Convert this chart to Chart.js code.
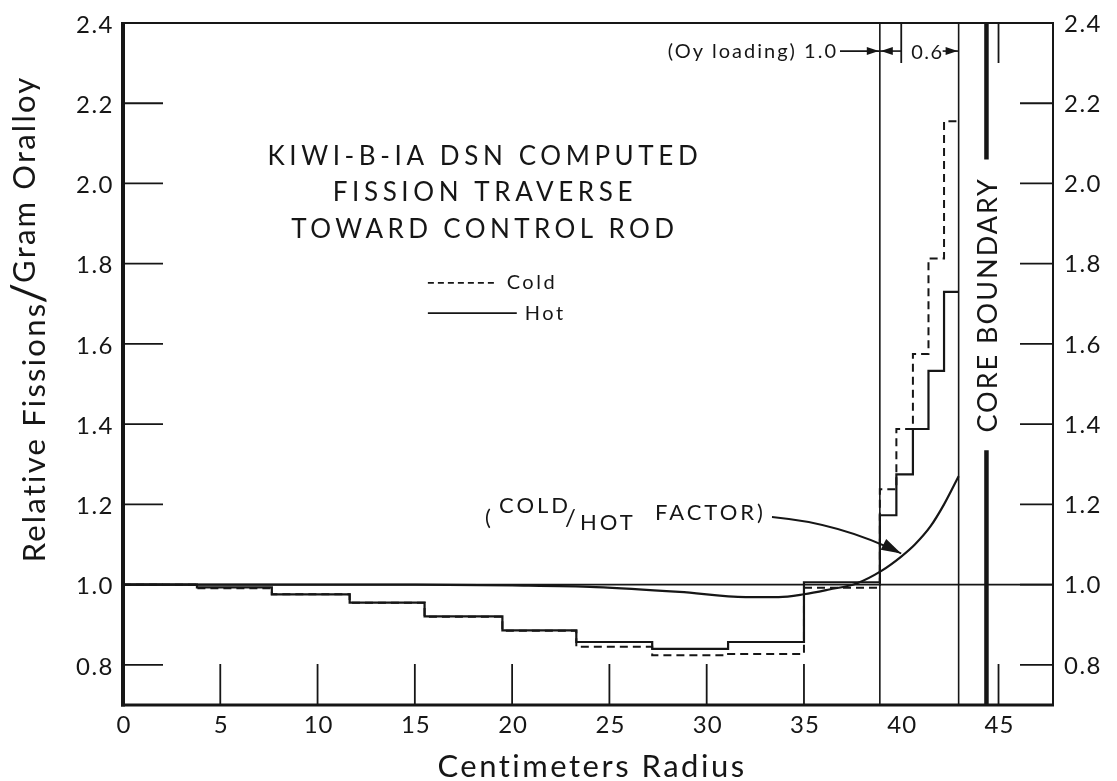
<!DOCTYPE html>
<html>
<head>
<meta charset="utf-8">
<script src="https://cdn.jsdelivr.net/npm/chart.js@4.4.1/dist/chart.umd.min.js"></script>
<style>
  html, body { margin: 0; padding: 0; background: #fff; }
  #wrap { width: 1117px; height: 781px; }
</style>
</head>
<body>
<div id="wrap"><canvas id="c" width="1117" height="781"></canvas></div>
<script>
// Zone edges (cm) of the DSN mesh regions along the traverse
const stepEdges = [0, 3.8, 7.65, 11.65, 15.5, 19.5, 23.3, 27.2, 31.1, 35.0, 38.9, 39.75, 40.6, 41.4, 42.2, 42.95];
// Relative fissions per gram oralloy in each zone
const hotValues  = [1.0, 0.993, 0.976, 0.955, 0.921, 0.886, 0.857, 0.840, 0.857, 1.006, 1.173, 1.275, 1.388, 1.533, 1.730];
const coldValues = [1.0, 0.991, 0.976, 0.955, 0.920, 0.885, 0.845, 0.824, 0.827, 0.992, 1.238, 1.388, 1.575, 1.813, 2.155];
// Cold/hot factor curve
const factorRadius = [0, 15, 20, 24.3, 28.6, 32.0, 33.7, 35.0, 36.3, 37.7, 39.0, 40.0, 40.7, 41.5, 42.2, 42.95];
const factorValues = [1.0, 1.0, 0.998, 0.994, 0.982, 0.969, 0.969, 0.976, 0.988, 1.003, 1.035, 1.07, 1.10, 1.145, 1.20, 1.27];
// Loading-zone boundaries and core boundary (cm)
const loadingBoundaries = [38.9, 42.95];
const coreBoundary = 44.38;
const coreBoundaryBreak = [1.335, 2.06];
// Axis ticks
const xTickValues = [0, 5, 10, 15, 20, 25, 30, 35, 40, 45];
const xTickLabels = ['0', '5', '10', '15', '20', '25', '30', '35', '40', '45'];
const bottomTickMarks = [5, 10, 15, 20, 25, 30, 35, 45];
const topTickMarks = [40, 45];
const yTickValues = [0.8, 1.0, 1.2, 1.4, 1.6, 1.8, 2.0, 2.2, 2.4];
const yTickLabels = ['0.8', '1.0', '1.2', '1.4', '1.6', '1.8', '2.0', '2.2', '2.4'];

const X_MIN = 0, X_MAX = 47.8, Y_MIN = 0.7, Y_MAX = 2.4;
const INK = '#161616';
const FAMILY = 'Lato, "Open Sans", "DejaVu Sans", sans-serif';
const font = (size, weight = 400) => `${weight} ${size}px ${FAMILY}`;

// each zone value holds from its left edge to the next edge
function stepPoints(edges, vals) {
  const pts = vals.map((v, i) => ({ x: edges[i], y: v }));
  pts.push({ x: edges[edges.length - 1], y: vals[vals.length - 1] });
  return pts;
}

const datasets = [
  { label: 'unity', data: [{ x: X_MIN, y: 1.0 }, { x: X_MAX, y: 1.0 }], borderColor: INK, borderWidth: 1.6 },
  { label: 'Cold', data: stepPoints(stepEdges, coldValues), stepped: 'before', borderColor: INK, borderWidth: 2, borderDash: [8, 5] },
  { label: 'Hot', data: stepPoints(stepEdges, hotValues), stepped: 'before', borderColor: INK, borderWidth: 2.2 },
  { label: 'factor', data: factorRadius.map((r, i) => ({ x: r, y: factorValues[i] })), borderColor: INK, borderWidth: 2.2,
    cubicInterpolationMode: 'monotone' },
  ...loadingBoundaries.map(b => ({ label: 'zone', data: [{ x: b, y: Y_MIN }, { x: b, y: Y_MAX }], borderColor: INK, borderWidth: 1.6 })),
  { label: 'core', data: [{ x: coreBoundary, y: Y_MIN }, { x: coreBoundary, y: coreBoundaryBreak[0] }, { x: coreBoundary, y: null },
      { x: coreBoundary, y: coreBoundaryBreak[1] }, { x: coreBoundary, y: Y_MAX }], borderColor: INK, borderWidth: 4.5, spanGaps: false }
];

function spaced(ctx, text, x, y, spacing) {
  ctx.letterSpacing = spacing + 'px';
  ctx.fillText(text, x, y);
  ctx.letterSpacing = '0px';
}
function widthOf(ctx, text, spacing) {
  ctx.letterSpacing = spacing + 'px';
  const w = ctx.measureText(text).width;
  ctx.letterSpacing = '0px';
  return w;
}
function arrowHead(ctx, x, y, angle, len, half) {
  ctx.beginPath();
  ctx.moveTo(x, y);
  ctx.lineTo(x - len * Math.cos(angle) + half * Math.sin(angle), y - len * Math.sin(angle) - half * Math.cos(angle));
  ctx.lineTo(x - len * Math.cos(angle) - half * Math.sin(angle), y - len * Math.sin(angle) + half * Math.cos(angle));
  ctx.closePath();
  ctx.fill();
}

const decorations = {
  id: 'decorations',
  afterDraw(chart) {
    const { ctx, chartArea: a, scales: { x, y } } = chart;
    ctx.save();
    ctx.strokeStyle = INK; ctx.fillStyle = INK; ctx.lineCap = 'butt';

    // frame
    ctx.lineWidth = 2; ctx.beginPath();
    ctx.moveTo(a.left, a.top); ctx.lineTo(a.right, a.top); ctx.lineTo(a.right, a.bottom); ctx.stroke();
    ctx.lineWidth = 4; ctx.beginPath(); ctx.moveTo(a.left, a.top - 1); ctx.lineTo(a.left, a.bottom + 1.5); ctx.stroke();
    ctx.lineWidth = 3; ctx.beginPath(); ctx.moveTo(a.left - 2, a.bottom); ctx.lineTo(a.right + 1, a.bottom); ctx.stroke();

    // inward tick marks
    ctx.lineWidth = 1.8;
    yTickValues.forEach(v => {
      if (v >= Y_MAX) return;
      const py = y.getPixelForValue(v);
      ctx.beginPath(); ctx.moveTo(a.left, py); ctx.lineTo(a.left + 40, py); ctx.stroke();
      ctx.beginPath(); ctx.moveTo(a.right, py); ctx.lineTo(a.right - 33, py); ctx.stroke();
    });
    bottomTickMarks.forEach(v => {
      const px = x.getPixelForValue(v);
      ctx.beginPath(); ctx.moveTo(px, a.bottom); ctx.lineTo(px, a.bottom - 41); ctx.stroke();
    });
    topTickMarks.forEach(v => {
      const px = x.getPixelForValue(v);
      ctx.beginPath(); ctx.moveTo(px, a.top); ctx.lineTo(px, a.top + 40); ctx.stroke();
    });

    // tick labels
    ctx.font = font(24);
    ctx.textBaseline = 'middle';
    yTickValues.forEach((v, i) => {
      const py = y.getPixelForValue(v);
      ctx.textAlign = 'right'; spaced(ctx, yTickLabels[i], a.left - 9, py + 2, 1.5);
      ctx.textAlign = 'left'; spaced(ctx, yTickLabels[i], a.right + 11, py + 1, 1.5);
    });
    ctx.textAlign = 'center';
    xTickValues.forEach((v, i) => {
      spaced(ctx, xTickLabels[i], x.getPixelForValue(v) + 1, a.bottom + 20, 1);
    });

    // axis titles
    ctx.font = font(31);
    ctx.textAlign = 'center';
    spaced(ctx, 'Centimeters Radius', (a.left + a.right) / 2 + 4, a.bottom + 62, 2.5);

    ctx.save();
    ctx.translate(31, 318);
    ctx.rotate(-Math.PI / 2);
    ctx.textAlign = 'left';
    ctx.font = font(31);
    const p1 = 'Relative Fissions', p3 = 'Gram Oralloy';
    const w1 = widthOf(ctx, p1, 2.2), w3 = widthOf(ctx, p3, 2.2);
    ctx.font = font(46);
    const w2 = widthOf(ctx, '/', 0);
    const total = w1 + w2 + w3;
    let cx = -total / 2;
    ctx.font = font(31); spaced(ctx, p1, cx, 4, 2.2); cx += w1;
    ctx.font = font(46); spaced(ctx, '/', cx - 2, -2, 0); cx += w2;
    ctx.font = font(31); spaced(ctx, p3, cx - 2, -6, 2.2);
    ctx.restore();

    // title block
    ctx.font = font(26);
    ctx.textAlign = 'center';
    const tx = x.getPixelForValue(18.6);
    spaced(ctx, 'KIWI-B-IA DSN COMPUTED', tx, y.getPixelForValue(2.066), 4.6);
    spaced(ctx, 'FISSION TRAVERSE', tx, y.getPixelForValue(1.976), 4.6);
    spaced(ctx, 'TOWARD CONTROL ROD', tx, y.getPixelForValue(1.884), 4.4);

    // legend
    const ly1 = y.getPixelForValue(1.752), ly2 = y.getPixelForValue(1.677);
    ctx.lineWidth = 1.8;
    ctx.setLineDash([6, 4]);
    ctx.beginPath(); ctx.moveTo(x.getPixelForValue(15.67), ly1); ctx.lineTo(x.getPixelForValue(19.12), ly1); ctx.stroke();
    ctx.setLineDash([]);
    ctx.beginPath(); ctx.moveTo(x.getPixelForValue(15.67), ly2); ctx.lineTo(x.getPixelForValue(20.24), ly2); ctx.stroke();
    ctx.font = font(20);
    ctx.textAlign = 'left';
    spaced(ctx, 'Cold', x.getPixelForValue(19.72), ly1, 2.5);
    spaced(ctx, 'Hot', x.getPixelForValue(20.65), ly2, 2.5);

    // cold/hot factor note with leader arrow
    const nx = 485, ny = 518;
    ctx.font = font(22);
    ctx.textAlign = 'left';
    spaced(ctx, '(', nx, ny, 0);
    spaced(ctx, 'COLD', nx + 14, ny - 12, 3);
    ctx.font = font(24);
    spaced(ctx, '/', nx + 80, ny, 0);
    ctx.font = font(22);
    spaced(ctx, 'HOT', nx + 95, ny + 5, 3);
    spaced(ctx, 'FACTOR)', nx + 170, ny - 5, 3);
    const ax0 = 772, ay0 = 517;
    const ax1 = x.getPixelForValue(40.1) - 2, ay1 = y.getPixelForValue(1.075) - 1;
    ctx.lineWidth = 1.8;
    ctx.beginPath(); ctx.moveTo(ax0, ay0); ctx.quadraticCurveTo(840, 523, ax1, ay1); ctx.stroke();
    arrowHead(ctx, ax1, ay1, Math.atan2(ay1 - 527, ax1 - 850), 20, 6);

    // loading dimension line
    const dy = y.getPixelForValue(2.33);
    const b0 = x.getPixelForValue(loadingBoundaries[0]);
    const b1 = x.getPixelForValue(loadingBoundaries[1]);
    ctx.font = font(20);
    ctx.textAlign = 'right';
    spaced(ctx, '(Oy loading) 1.0', 838, dy, 2);
    ctx.lineWidth = 1.6;
    ctx.beginPath(); ctx.moveTo(840, dy); ctx.lineTo(b0, dy); ctx.stroke();
    arrowHead(ctx, b0 - 1, dy, 0, 12, 4);
    ctx.beginPath(); ctx.moveTo(b0, dy); ctx.lineTo(x.getPixelForValue(40), dy); ctx.stroke();
    arrowHead(ctx, b0 + 1, dy, Math.PI, 12, 4);
    ctx.textAlign = 'left';
    spaced(ctx, '0.6', x.getPixelForValue(40) + 10, dy + 1, 1.5);
    ctx.beginPath(); ctx.moveTo(b1 - 16, dy); ctx.lineTo(b1, dy); ctx.stroke();
    arrowHead(ctx, b1 - 1, dy, 0, 12, 4);

    // core boundary label
    ctx.save();
    const cbx = x.getPixelForValue(coreBoundary);
    const cby = (y.getPixelForValue(coreBoundaryBreak[0]) + y.getPixelForValue(coreBoundaryBreak[1])) / 2;
    ctx.translate(cbx + 1, cby);
    ctx.rotate(-Math.PI / 2);
    ctx.font = font(27);
    ctx.textAlign = 'center';
    ctx.textBaseline = 'middle';
    spaced(ctx, 'CORE BOUNDARY', 0, 1, 2);
    ctx.restore();

    ctx.restore();
  }
};

new Chart(document.getElementById('c'), {
  type: 'line',
  data: { datasets },
  options: {
    responsive: false,
    animation: false,
    layout: { padding: { left: 123, right: 64, top: 23, bottom: 76 } },
    elements: { point: { radius: 0, hoverRadius: 0 }, line: { tension: 0, fill: false } },
    plugins: { legend: { display: false }, tooltip: { enabled: false } },
    scales: {
      x: { type: 'linear', min: X_MIN, max: X_MAX, display: false },
      y: { type: 'linear', min: Y_MIN, max: Y_MAX, display: false }
    }
  },
  plugins: [decorations]
});
</script>
</body>
</html>
